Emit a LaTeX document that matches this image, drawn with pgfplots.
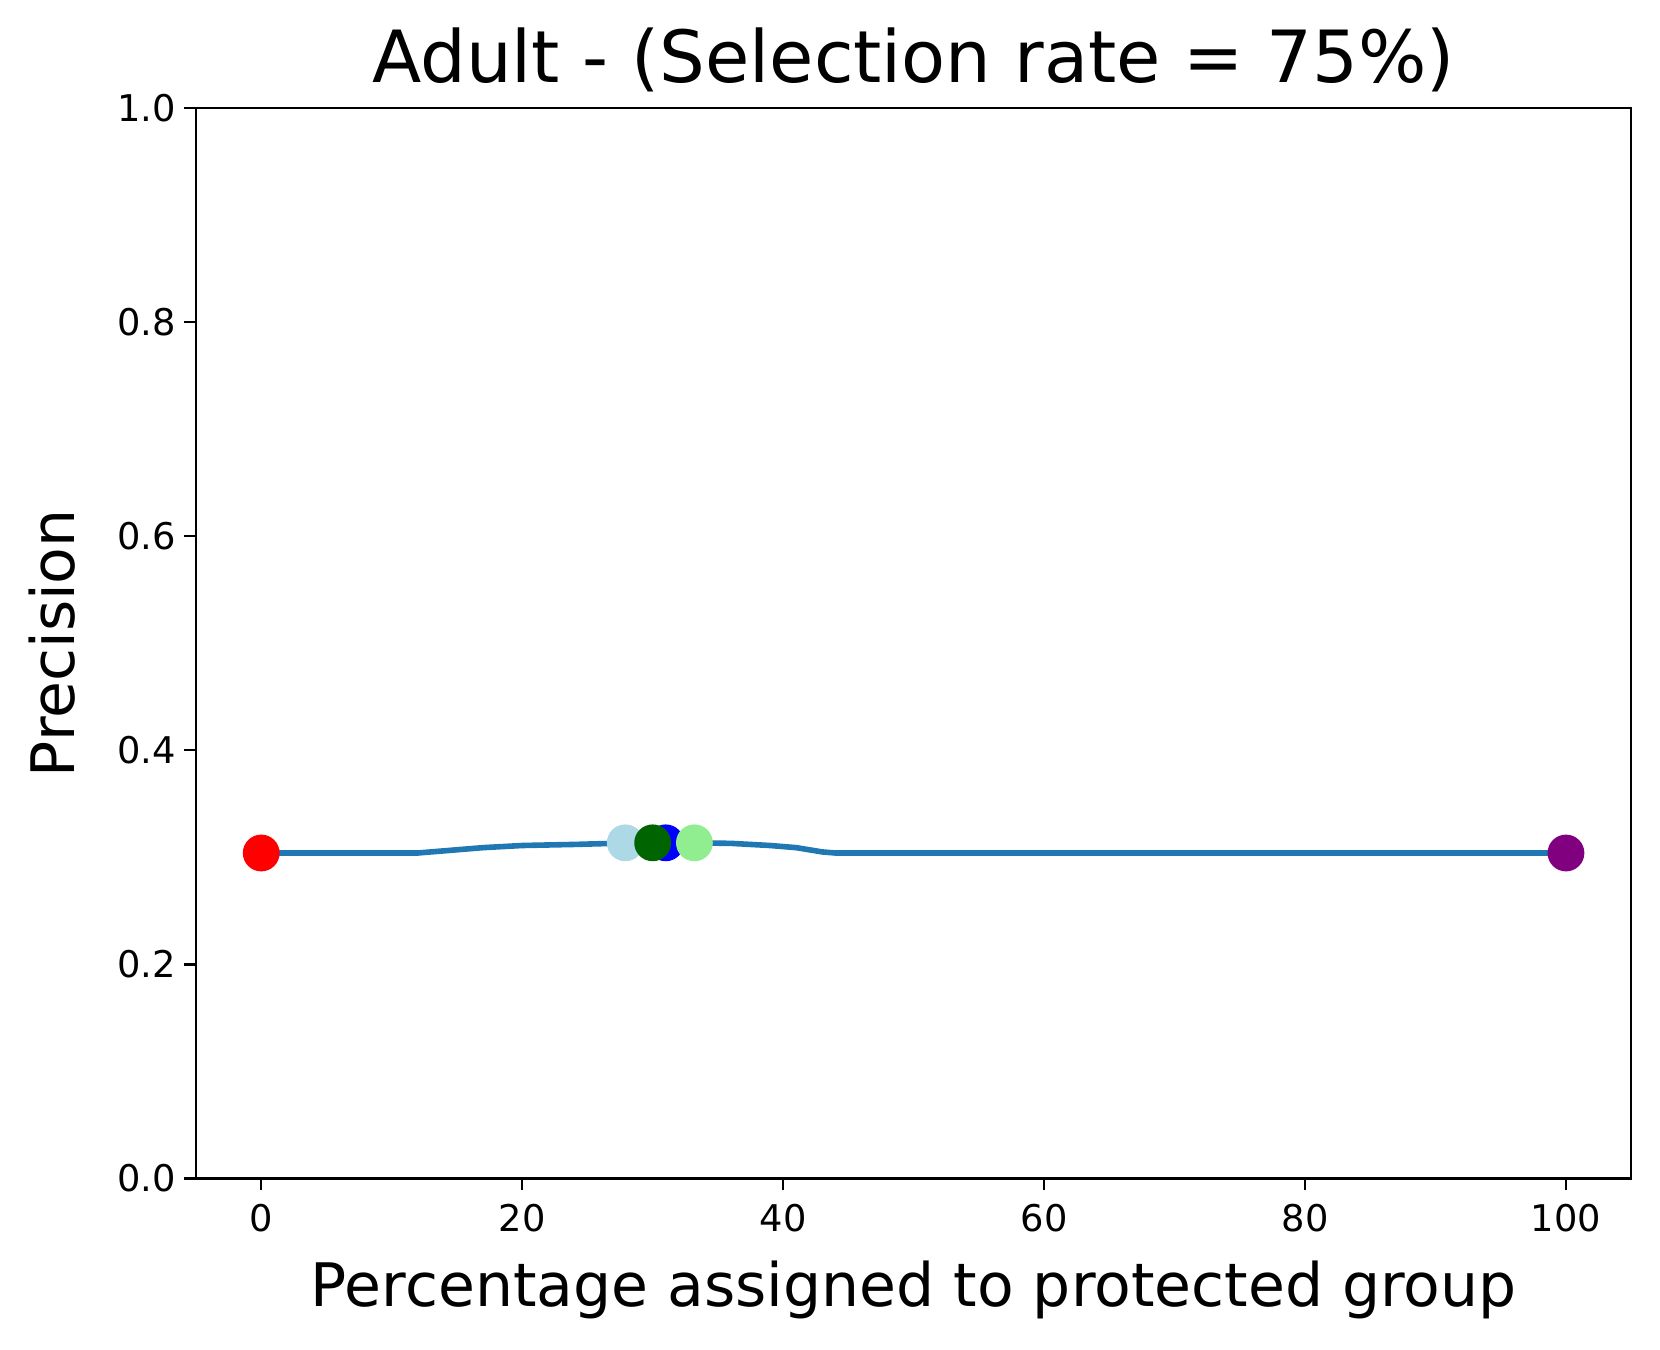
\documentclass[border=0pt]{standalone}
\usepackage{pgfplots}
\pgfplotsset{compat=1.18}
\usepackage{fontspec}
\setmainfont{DejaVu Sans}
\definecolor{mplblue}{HTML}{1F77B4}
\definecolor{lightblue}{HTML}{ADD8E6}
\definecolor{lightgreen}{HTML}{90EE90}
\definecolor{darkgreen}{HTML}{006400}
\definecolor{mplpurple}{HTML}{800080}
\begin{document}
\begin{tikzpicture}
\begin{axis}[
    scale only axis,
    width=358.8pt, height=267.6pt,
    xmin=-5, xmax=105, ymin=0, ymax=1,
    xtick={0,20,40,60,80,100},
    ytick={0,0.2,0.4,0.6,0.8,1.0},
    yticklabel style={/pgf/number format/fixed, /pgf/number format/fixed zerofill, /pgf/number format/precision=1, xshift=1.5pt},
    /pgf/number format/assume math mode=true,
    tick label style={font=\fontsize{9.2}{11}\selectfont},
    tick align=outside, major tick length=3pt,
    xtick pos=bottom, ytick pos=left,
    axis line style={line width=0.6pt},
    every tick/.style={black, line width=0.6pt},
    xlabel={Percentage assigned to protected group},
    ylabel={Precision},
    title={Adult - (Selection rate = 75\%)},
    every axis title shift=0pt,
    label style={font=\fontsize{15}{18}\selectfont},
    xlabel style={at={(axis description cs:0.5,0)}, anchor=center, yshift=-28pt},
    ylabel style={at={(axis description cs:-0.1,0.5)}, anchor=center},
    title style={font=\fontsize{18}{21}\selectfont, at={(axis description cs:0.5,1)}, anchor=center, yshift=12pt},
    clip=false,
]
\addplot[mplblue, line width=1.4pt] coordinates {
    (0,0.304) (12,0.304) (14,0.306) (17,0.309) (20,0.311) (24,0.312) (27,0.313)
    (30,0.3135) (33,0.3135) (36,0.313) (39,0.311) (41,0.309) (43,0.305) (44,0.304) (100,0.304)
};
\addplot[only marks, mark=*, mark size=4.4pt, mark options={draw=red, fill=red}] coordinates {(0,0.304)};
\addplot[only marks, mark=*, mark size=4.4pt, mark options={draw=lightblue, fill=lightblue}] coordinates {(27.9,0.3135)};
\addplot[only marks, mark=*, mark size=4.4pt, mark options={draw=blue, fill=blue}] coordinates {(31,0.3135)};
\addplot[only marks, mark=*, mark size=4.4pt, mark options={draw=darkgreen, fill=darkgreen}] coordinates {(30,0.3135)};
\addplot[only marks, mark=*, mark size=4.4pt, mark options={draw=lightgreen, fill=lightgreen}] coordinates {(33.2,0.3135)};
\addplot[only marks, mark=*, mark size=4.4pt, mark options={draw=mplpurple, fill=mplpurple}] coordinates {(100,0.304)};
\end{axis}
\pgfresetboundingbox
\path[use as bounding box] (-49pt,-42.8pt) rectangle (366pt,294.6pt);
\end{tikzpicture}
\end{document}
